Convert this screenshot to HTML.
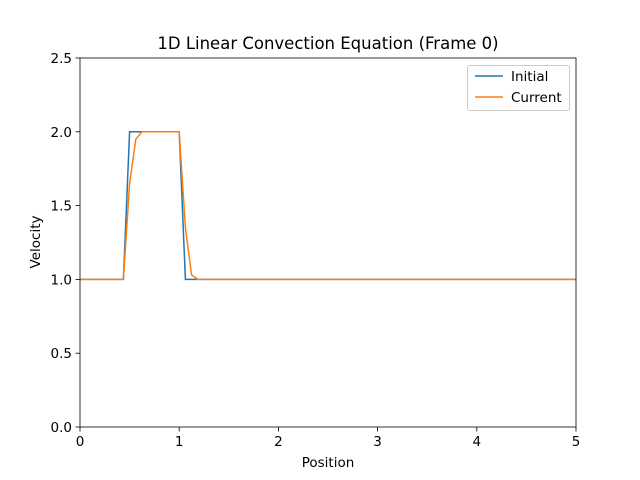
<!DOCTYPE html>
<html><head><meta charset="utf-8"><style>
body{margin:0;background:#fff;}
svg{display:block;font-family:"DejaVu Sans","Liberation Sans",sans-serif;}
</style></head><body>
<svg id="chart" width="640" height="480"></svg>
<script>
const xTicks=[0,1,2,3,4,5];
const yTicks=[0.0,0.5,1.0,1.5,2.0,2.5];
const xStep=0.0625;
const initialValues=[1,1,1,1,1,1,1,1,2,2,2,2,2,2,2,2,2,1,1,1,1,1,1,1,1,1,1,1,1,1,1,1,1,1,1,1,1,1,1,1,1,1,1,1,1,1,1,1,1,1,1,1,1,1,1,1,1,1,1,1,1,1,1,1,1,1,1,1,1,1,1,1,1,1,1,1,1,1,1,1,1];
const currentValues=[1,1,1,1,1,1,1,1,1.65,1.95,2,2,2,2,2,2,2,1.35,1.03,1,1,1,1,1,1,1,1,1,1,1,1,1,1,1,1,1,1,1,1,1,1,1,1,1,1,1,1,1,1,1,1,1,1,1,1,1,1,1,1,1,1,1,1,1,1,1,1,1,1,1,1,1,1,1,1,1,1,1,1,1,1];
const L=80,R=576,T=58,B=427;
const sx=v=>L+(v-0)/(5-0)*(R-L);
const sy=v=>B-(v-0)/(2.5-0)*(B-T);
const svg=document.getElementById('chart');
const NS='http://www.w3.org/2000/svg';
function mk(tag,attrs,text){const e=document.createElementNS(NS,tag);for(const k in attrs)e.setAttribute(k,attrs[k]);if(text!==undefined)e.textContent=text;svg.appendChild(e);return e;}
let e;
e=mk('text',{x:328,y:49,'text-anchor':'middle','font-size':16.5},'1D Linear Convection Equation (Frame 0)');


xTicks.forEach(t=>{
 e=mk('line',{x1:sx(t),x2:sx(t),y1:B,y2:B+4.5,stroke:'#000','stroke-width':0.8});
 
 
 e=mk('text',{x:sx(t),y:B+19,'text-anchor':'middle','font-size':13.5},String(t));
 
 
});
yTicks.forEach(t=>{
 e=mk('line',{x1:L-4.5,x2:L,y1:sy(t),y2:sy(t),stroke:'#000','stroke-width':0.8});
 
 
 e=mk('text',{x:L-8,y:sy(t)+5,'text-anchor':'end','font-size':13.5},t.toFixed(1));
 
 
});
e=mk('text',{x:328,y:467,'text-anchor':'middle','font-size':13.5},'Position');


e=mk('text',{x:40,y:242,'text-anchor':'middle','font-size':13.5,transform:'rotate(-90 40 242)'},'Velocity');


function line(vals,color,name){
 const d=vals.map((v,i)=>(i?'L':'M')+sx(i*xStep).toFixed(2)+','+sy(v).toFixed(2)).join(' ');
 const p=mk('path',{d:d,fill:'none',stroke:color,'stroke-width':1.5});
 
 
}
line(initialValues,'#1f77b4','initial-line');
line(currentValues,'#ff7f0e','current-line');
e=mk('rect',{x:L,y:T,width:R-L,height:B-T,fill:'none',stroke:'#000','stroke-width':0.8});


e=mk('rect',{x:467.5,y:65.5,width:102,height:45,fill:'#fff','fill-opacity':0.8,stroke:'#ccc',rx:2});


[['Initial','#1f77b4',76],['Current','#ff7f0e',97]].forEach(([n,c,y])=>{
 e=mk('line',{x1:475,x2:503,y1:y,y2:y,stroke:c,'stroke-width':1.5});
 
 
 e=mk('text',{x:511,y:y+5,'font-size':13.5},n);
 
 
});
</script>
</body></html>
